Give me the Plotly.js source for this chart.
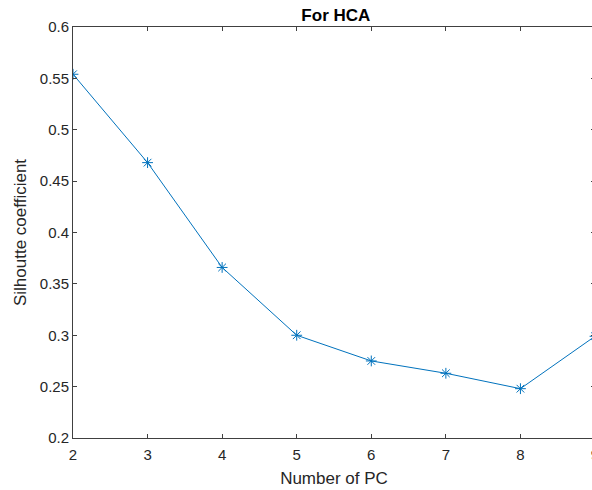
<!DOCTYPE html>
<html><head><meta charset="utf-8">
<script src="https://cdn.plot.ly/plotly-3.0.1.min.js"></script>
<style>html,body{margin:0;padding:0;overflow:hidden;background:#fff}</style>
</head><body><div id="chart"></div>
<script>
const numPC = [2, 3, 4, 5, 6, 7, 8, 9];
const silhouette = [0.554, 0.468, 0.366, 0.300, 0.275, 0.263, 0.248, 0.299];
const xTicks = [2, 3, 4, 5, 6, 7, 8, 9];
const yTicks = [0.2, 0.25, 0.3, 0.35, 0.4, 0.45, 0.5, 0.55, 0.6];
const yTickText = ['0.2', '0.25', '0.3', '0.35', '0.4', '0.45', '0.5', '0.55', '0.6'];

const FONT = 'Liberation Sans, Arial, sans-serif';
const trace = {
  x: numPC, y: silhouette, mode: 'lines+markers', type: 'scatter',
  line: {color: '#0072BD', width: 1},
  marker: {symbol: 'asterisk-open', size: 9, color: '#0072BD', line: {color: '#0072BD', width: 1}}
};
const axisCommon = {
  showgrid: false, zeroline: false, showline: true, linecolor: '#404040', linewidth: 1,
  mirror: 'ticks', ticks: 'inside', ticklen: 4, tickcolor: '#404040',
  ticklabeloverflow: 'allow',
  tickfont: {family: FONT, size: 15, color: '#262626'}
};
const layout = {
  width: 596, height: 490,
  margin: {l: 73, r: 1, t: 27, b: 52},
  paper_bgcolor: '#fff', plot_bgcolor: '#fff',
  showlegend: false,
  title: {text: '<b>For HCA</b>', x: 0.5635, xanchor: 'center', y: 0.969, yanchor: 'middle',
          font: {family: FONT, size: 17, color: '#000'}},
  xaxis: Object.assign({}, axisCommon, {range: [2, 9], tickvals: xTicks, ticktext: xTicks.map(String),
    ticklabelstandoff: 3,
    title: {text: 'Number of PC', standoff: 10, font: {family: FONT, size: 17, color: '#262626'}}}),
  yaxis: Object.assign({}, axisCommon, {range: [0.2, 0.6], tickvals: yTicks, ticktext: yTickText,
    title: {text: 'Silhoutte coefficient', standoff: 8, font: {family: FONT, size: 17, color: '#262626'}}})
};
Plotly.newPlot('chart', [trace], layout, {displayModeBar: false, staticPlot: true});
</script></body></html>
